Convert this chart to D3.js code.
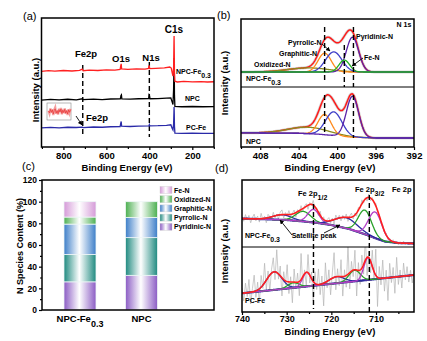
<!DOCTYPE html>
<html><head><meta charset="utf-8">
<script src="https://cdn.jsdelivr.net/npm/d3@7"></script>
<style>body{margin:0;background:#fff}svg{display:block}</style>
</head><body><svg id="c" width="427" height="341"></svg>
<script>
// ================= DATA =================
// (a) XPS survey spectra: [binding energy (eV), intensity (a.u.)]
const surveyNPCFe = [[902,58.6],[870,59.2],[840,58.8],[800,59.3],[760,58.9],[725,59.4],[712,60.4],[708,59.1],[680,59.6],[640,59.3],[600,59.8],[560,59.6],[536,60.2],[533,63],[531,64.5],[529,60.6],[500,60.2],[460,60.6],[420,60.4],[404,60.9],[401,63.2],[398,60.8],[370,61],[330,61.3],[305,62],[298,61.2],[293,57],[290,55],[287,62],[285.5,80],[284.8,86],[284,75],[283,58],[281,51],[270,50.4],[240,50.8],[200,50.5],[160,50.7],[130,50.4],[99,50.6]];
const surveyNPC = [[902,36.4],[860,36.9],[820,36.5],[780,37],[740,36.6],[712,37.4],[708,36.8],[660,37.1],[620,36.8],[580,37.2],[535,37.3],[532,40],[530,40.5],[528,37.3],[490,37.1],[450,37.4],[403,37.6],[401,40.2],[399,39.5],[397,37.4],[360,37.5],[320,37.9],[300,38.1],[294,35],[290,33],[287,45],[285.5,62],[284.8,69],[284,60],[283,40],[281,31.5],[250,31.2],[200,31.4],[150,31.2],[99,31.3]];
const surveyPCFe = [[902,14.8],[860,15.2],[820,14.9],[780,15.3],[740,15.1],[712,15.4],[708,15.0],[660,15.5],[620,15.3],[580,15.7],[536,15.8],[533,18.5],[531,19.8],[529,16.1],[490,15.9],[450,16.2],[402,16.3],[400,17.3],[398,16.4],[360,16.5],[320,16.8],[300,17.2],[294,14.5],[290,13.2],[287,18],[285.5,27],[284.8,31],[284,26],[283,16],[281,10.8],[250,10.5],[200,10.7],[150,10.5],[99,10.6]];
const surveyNames = ["NPC-Fe", "NPC", "PC-Fe"];
const insetSignal = [0.2,-0.5,0.8,-0.3,0.6,-0.9,0.4,1,-0.6,0.3,-0.8,0.7,-0.2,0.9,-0.7,0.5,-0.4,0.8,-0.6,0.3,-0.9,0.6,-0.3,0.7];

// (b) N 1s fitted components: centre (eV), FWHM (eV), height (a.u.)
const n1sSpecies = ["Pyridinic-N","Pyrrolic-N","Graphitic-N","Oxidized-N","Fe-N"];
const n1sCenters = [398.4, 400.35, 401.3, 403.0, 399.25];
const n1sFwhm = [1.5, 2.0, 1.6, 5.0, 1.3];
const n1sHeightNPCFe = [0.85, 0.49, 0.46, 0.10, 0.29];
const n1sHeightNPC = [0.95, 0.55, 0.47, 0.15, 0];
const n1sBgNPCFe = [[410,0],[392,0]];
const n1sBgNPC = [[410,0.12],[404,0.11],[402,0.09],[400,0.05],[398.5,0.02],[396,0],[392,0]];

// (c) N species content (%)
const samples = ["NPC-Fe0.3","NPC"];
const contentNPCFe = [26, 25.3, 28, 6.5, 14.2];
const contentNPC = [32, 34.8, 18.7, 14.5, 0];
const yTicksC = [0,20,40,60,80,100,120];

// (d) Fe 2p fitted components
const fe2pKinds = ["sat","Fe2+","Fe3+","sat","Fe2+","Fe3+"];
const fe2pCentersNPCFe = [731.0, 726.3, 724.0, 716.7, 712.5, 710.2];
const fe2pHeightsNPCFe = [7.5, 15, 19.5, 15.7, 36, 39];
const fe2pFwhmNPCFe = [5, 4, 3, 6, 3.5, 3.5];
const fe2pBgNPCFe = [[740,42.5],[735,41.5],[730,40.3],[726,38],[723,35.8],[720,32.8],[716,26.9],[712,17.9],[710,12.7],[708,8.2],[705,6],[701.5,5.2]];
const fe2pCentersPCFe = [732.8, 728.5, 725.5, 718.8, 714.8, 711.8];
const fe2pHeightsPCFe = [27.7, 7.7, 21.5, 10, 17, 34];
const fe2pFwhmPCFe = [4, 3, 2.2, 4, 3, 2.2];
const fe2pBgPCFe = [[740,28.8],[701.5,56.9]];
const fe2pNoiseNPCFe = [3,-4,6,-2,5,-6,2,7,-3,4,-5,8,-2,3,-7,5,1,-4,6,-3,2,-6,4,7,-5,3,-2,6,-4,1,5,-7,3,-3,6,-5,2,4,-6,3,-2,7,-4,2,-5,6,-3,4,-6,2,5,-4,3,-7,6,-2,4,-5,3,-3,5,-6,2,6,-4,3,-5,4,-2,6,-3,2,-5,5,-4,3,-2,4,-3,2,-4,3,-2,3,-3,2,-2,3,-2,2,-3,2,-2,3,-2,1,-2,2,-1,2];
const fe2pNoisePCFe = [8,-12,15,-6,20,-18,5,25,-10,12,-22,18,-5,30,-15,10,-25,6,22,-12,35,-8,15,-28,12,-6,26,-18,8,-32,20,-10,14,-22,40,-15,6,-20,28,-12,10,-30,18,-8,24,-16,12,-35,30,-10,16,-24,8,38,-20,12,-14,26,-30,10,-18,45,-25,15,-10,30,-40,12,-22,20,-15,35,-28,10,-18,25,-12,40,-45,18,-10,28,-20,12,-35,22,-8,15,-25,30,-12,10,-18,20,-6,14,-10,8,-12,6];

// ================= HELPERS =================
const FONT = "'Liberation Sans', Arial, sans-serif";
const svg = d3.select("#c");
const defs = svg.append("defs");
defs.append("marker").attr("id","ah").attr("viewBox","0 0 10 10").attr("refX",9).attr("refY",5)
  .attr("markerWidth",5).attr("markerHeight",5).attr("orient","auto")
  .append("path").attr("d","M0,0L10,5L0,10z").attr("fill","#000");

function gauss(E,c,h,w){ return h*Math.exp(-4*Math.LN2*(E-c)*(E-c)/(w*w)); }
function interp(pts,E){
  const s = pts.slice().sort((a,b)=>a[0]-b[0]);
  if(E<=s[0][0]) return s[0][1];
  if(E>=s[s.length-1][0]) return s[s.length-1][1];
  for(let i=1;i<s.length;i++){ if(E<=s[i][0]){ const t=(E-s[i-1][0])/(s[i][0]-s[i-1][0]); return s[i-1][1]+t*(s[i][1]-s[i-1][1]); } }
}
function label(x,y,parts,o){
  o=o||{};
  const t = svg.append("text").attr("x",x).attr("y",y).attr("font-size",o.size||7)
    .attr("font-weight",o.bold===false?"normal":"bold").attr("text-anchor",o.anchor||"start")
    .attr("font-family",FONT).attr("fill",o.fill||"#000");
  if(o.rotate) t.attr("transform",`rotate(-90,${x},${y})`);
  parts.forEach(p=>{ const s=t.append("tspan").text(p[0]); if(p[1]!==undefined) s.attr("dy",p[1]).attr("font-size",p[2]||o.size||7); });
  return t;
}
function frame(x0,y0,x1,y1){
  svg.append("rect").attr("x",x0).attr("y",y0).attr("width",x1-x0).attr("height",y1-y0)
    .attr("fill","none").attr("stroke","#000").attr("stroke-width",1.5);
}
function bottomAxis(scale,y,major,minor,fs,pad){
  const g1 = svg.append("g").attr("transform",`translate(0,${y})`)
    .call(d3.axisBottom(scale).tickValues(minor).tickSize(2).tickFormat(""));
  const g2 = svg.append("g").attr("transform",`translate(0,${y})`)
    .call(d3.axisBottom(scale).tickValues(major).tickSize(3).tickPadding(pad).tickFormat(d3.format("d")));
  [g1,g2].forEach(g=>{ g.select(".domain").remove(); g.selectAll("line").attr("stroke-width",1.2);
    g.selectAll("text").attr("font-size",fs).attr("font-weight","bold").attr("font-family",FONT).attr("fill","#000"); });
}
function vdash(x,y0,y1){
  svg.append("line").attr("x1",x).attr("x2",x).attr("y1",y0).attr("y2",y1)
    .attr("stroke","#000").attr("stroke-width",1.4).attr("stroke-dasharray","5,3");
}
function arrow(x1,y1,x2,y2){
  svg.append("line").attr("x1",x1).attr("y1",y1).attr("x2",x2).attr("y2",y2)
    .attr("stroke","#000").attr("stroke-width",0.9).attr("marker-end","url(#ah)");
}

// ================= PANEL (a) =================
const ax = d3.scaleLinear().domain([902,99]).range([41.5,214]);
const ay = d3.scaleLinear().domain([0,100]).range([147,18]);
const lineA = d3.line().x(d=>ax(d[0])).y(d=>ay(d[1]));
bottomAxis(ax,147,[800,600,400,200],[900,700,500,300,100],9.5,2);
vdash(ax(710), ay(63.6), ay(7.8));
vdash(ax(400), ay(65.9), ay(7.8));
[[surveyPCFe,"#2a2aa8"],[surveyNPC,"#000"],[surveyNPCFe,"#ff2020"]].forEach(([d,c])=>{
  svg.append("path").datum(d).attr("d",lineA).attr("fill","none").attr("stroke",c).attr("stroke-width",1.3);
});
// inset
const insX = d3.scaleLinear().domain([0,insetSignal.length-1]).range([48.5,70.5]);
const insY = d3.scaleLinear().domain([-2.2,2.2]).range([120,103]);
svg.append("rect").attr("x",47).attr("y",103).attr("width",24).attr("height",17).attr("fill","#fff").attr("stroke","#888").attr("stroke-width",0.6);
svg.append("path").datum(insetSignal).attr("d",d3.line().x((d,i)=>insX(i)).y(d=>insY(d))).attr("fill","none").attr("stroke","#f4a0a0").attr("stroke-width",2.4);
svg.append("path").datum(insetSignal).attr("d",d3.line().x((d,i)=>insX(i)).y(d=>insY(d*0.7))).attr("fill","none").attr("stroke","#e83030").attr("stroke-width",0.7);
frame(41.5,18,214,147);
label(23,20,[["(a)"]],{size:11,bold:false});
label(174,33,[["C1s"]],{size:10,anchor:"middle"});
label(86,57,[["Fe2p"]],{size:9.5,anchor:"middle"});
label(121,62,[["O1s"]],{size:9.5,anchor:"middle"});
label(151,61,[["N1s"]],{size:9.5,anchor:"middle"});
label(86,121,[["Fe2p"]],{size:9.5});
arrow(76,116,82,125);
label(176,74,[["NPC-Fe"],["0.3",3.5,7]],{size:7});
label(185,101,[["NPC"]],{size:7});
label(186,130,[["PC-Fe"]],{size:7});
label(38.5,90,[["Intensity (a.u.)"]],{size:9.5,anchor:"middle",rotate:true});
label(127,171,[["Binding Energy (eV)"]],{size:9.5,anchor:"middle"});

// ================= PANEL (b) =================
const bx = d3.scaleLinear().domain([410,392]).range([241,414]);
const byTop = d3.scaleLinear().domain([0,1]).range([72,31]);
const byBot = d3.scaleLinear().domain([0,1]).range([138,95]);
const n1sColors = ["#5a22a8","#3e3ec8","#ff8a1c","#8a8a1e","#22b022"];
const Eb = d3.range(410,391.99,-0.05);
bottomAxis(bx,147,[408,404,400,396,392],[410,406,402,398,394],9.5,2);
function drawN1s(heights,bg,ys,order){
  const lb = d3.line().x(d=>bx(d[0])).y(d=>ys(d[1]));
  const env = Eb.map(E=>[E, interp(bg,E)+heights.reduce((s,h,i)=>s+gauss(E,n1sCenters[i],h,n1sFwhm[i]),0)]);
  svg.append("path").datum(env).attr("d",lb).attr("fill","none").attr("stroke","#d8d8d8").attr("stroke-width",3);
  svg.append("path").datum(env).attr("d",lb).attr("fill","none").attr("stroke","#ff1a1a").attr("stroke-width",1.5);
  order.forEach(i=>{
    if(heights[i]<=0) return;
    const comp = Eb.map(E=>[E, interp(bg,E)+gauss(E,n1sCenters[i],heights[i],n1sFwhm[i])]);
    svg.append("path").datum(comp).attr("d",lb).attr("fill","none").attr("stroke",n1sColors[i]).attr("stroke-width",1.3);
  });
}
drawN1s(n1sHeightNPCFe,n1sBgNPCFe,byTop,[3,2,1,0,4]);
drawN1s(n1sHeightNPC,n1sBgNPC,byBot,[3,2,1,0]);
vdash(bx(401.3),27,83); vdash(bx(399.25),45,87); vdash(bx(398.3),27,87);
vdash(bx(401.3),95,133); vdash(bx(398.3),95,138);
svg.append("line").attr("x1",241).attr("x2",414).attr("y1",87).attr("y2",87).attr("stroke","#000").attr("stroke-width",1);
frame(241,19,414,147);
label(217,19,[["(b)"]],{size:11,bold:false});
label(404,27,[["N 1s"]],{size:7,anchor:"middle"});
label(288,45,[["Pyrrolic-N"]],{size:7});
arrow(322,44,330,51);
label(279,56,[["Graphitic-N"]],{size:7});
label(254,67,[["Oxidized-N"]],{size:7});
label(356,39,[["Pyridinic-N"]],{size:7});
label(364,60,[["Fe-N"]],{size:7});
arrow(363,58,352,66);
label(246,81,[["NPC-Fe"],["0.3",3.5,7]],{size:7});
label(246,144,[["NPC"]],{size:7});
label(228,83,[["Intensity (a.u.)"]],{size:9.5,anchor:"middle",rotate:true});
label(330,171,[["Binding Energy (eV)"]],{size:9.5,anchor:"middle"});

// ================= PANEL (c) =================
const cy = d3.scaleLinear().domain([0,120]).range([310,180]);
const cx = d3.scaleBand().domain(samples).range([64,157.5]).paddingInner(0.48).paddingOuter(0);
const speciesColors = ["#8b5cc4","#1f8a80","#3d7ec8","#4caf50","#d59ad8"];
speciesColors.forEach((c,i)=>{
  const g = defs.append("linearGradient").attr("id","sg"+i).attr("x1",0).attr("x2",1).attr("y1",0).attr("y2",0);
  g.append("stop").attr("offset","0%").attr("stop-color",c);
  g.append("stop").attr("offset","48%").attr("stop-color","#fff");
  g.append("stop").attr("offset","100%").attr("stop-color",c);
});
const stackData = [contentNPCFe, contentNPC];
stackData.forEach((vals,si)=>{
  let acc = 0;
  vals.forEach((v,i)=>{
    if(v<=0) return;
    svg.append("rect").attr("x",cx(samples[si])).attr("width",cx.bandwidth())
      .attr("y",cy(acc+v)).attr("height",cy(acc)-cy(acc+v))
      .attr("fill",`url(#sg${i})`).attr("stroke","#eef6f6").attr("stroke-width",0.8);
    acc += v;
  });
});
const gyc = svg.append("g").attr("transform","translate(42,0)")
  .call(d3.axisLeft(cy).tickValues(d3.range(10,120,20)).tickSize(2).tickFormat(""));
const gyc2 = svg.append("g").attr("transform","translate(42,0)")
  .call(d3.axisLeft(cy).tickValues(yTicksC).tickSize(3).tickPadding(2));
[gyc,gyc2].forEach(g=>{ g.select(".domain").remove(); g.selectAll("line").attr("stroke-width",1.2);
  g.selectAll("text").attr("font-size",8.5).attr("font-weight","bold").attr("font-family",FONT).attr("fill","#000"); });
frame(42,180,214,310);
// legend
const legOrder = [4,3,2,1,0];
legOrder.forEach((si,k)=>{
  const yy = 190 + k*9.2;
  svg.append("rect").attr("x",160).attr("y",yy-3.5).attr("width",12).attr("height",7)
    .attr("fill",`url(#sg${si})`).attr("stroke","#ccc").attr("stroke-width",0.4);
  label(174,yy+2.5,[[n1sSpecies[si]]],{size:7});
});
label(80,322,[["NPC-Fe"],["0.3",5,9]],{size:9.5,anchor:"middle"});
label(141.5,322,[["NPC"]],{size:9.5,anchor:"middle"});
label(23,246,[["N Species Content (%)"]],{size:9,anchor:"middle",rotate:true});
label(22,170,[["(c)"]],{size:11,bold:false});

// ================= PANEL (d) =================
const dx = d3.scaleLinear().domain([740,701.5]).range([242,414]);
const dyTop = d3.scaleLinear().domain([0,100]).range([247,180]);
const dyBot = d3.scaleLinear().domain([0,100]).range([312,247]);
const feColors = {"sat":"#2a2aa0","Fe2+":"#2aa02a","Fe3+":"#b23cc6"};
const Ed = d3.range(740,701.49,-0.1);
bottomAxis(dx,312,[740,730,720,710],[735,725,715,705],9,1);
defs.append("clipPath").attr("id","cdTop").append("rect").attr("x",242).attr("y",180).attr("width",172).attr("height",67);
defs.append("clipPath").attr("id","cdBot").append("rect").attr("x",242).attr("y",247).attr("width",172).attr("height",65);
function drawFe(centers,heights,fwhm,bg,noise,ys,clip){
  const g = svg.append("g").attr("clip-path",`url(#${clip})`);
  const ld = d3.line().x(d=>dx(d[0])).y(d=>ys(d[1]));
  const model = E => interp(bg,E)+heights.reduce((s,h,i)=>s+gauss(E,centers[i],h,fwhm[i]),0);
  const nE = d3.scaleLinear().domain([0,noise.length-1]).range([740,701.5]);
  const raw = noise.map((n,i)=>[nE(i), model(nE(i))+n]);
  g.append("path").datum(raw).attr("d",ld).attr("fill","none").attr("stroke","#b4b4b4").attr("stroke-width",0.7);
  g.append("path").datum(Ed.map(E=>[E,interp(bg,E)])).attr("d",ld).attr("fill","none").attr("stroke","#2a2aa0").attr("stroke-width",2.2);
  centers.forEach((c,i)=>{
    const comp = Ed.map(E=>[E, interp(bg,E)+gauss(E,c,heights[i],fwhm[i])]);
    g.append("path").datum(comp).attr("d",ld).attr("fill","none").attr("stroke",feColors[fe2pKinds[i]]).attr("stroke-width",1.3);
  });
  g.append("path").datum(Ed.map(E=>[E,model(E)])).attr("d",ld).attr("fill","none").attr("stroke","#ff2020").attr("stroke-width",1.6);
}
drawFe(fe2pCentersNPCFe,fe2pHeightsNPCFe,fe2pFwhmNPCFe,fe2pBgNPCFe,fe2pNoiseNPCFe,dyTop,"cdTop");
drawFe(fe2pCentersPCFe,fe2pHeightsPCFe,fe2pFwhmPCFe,fe2pBgPCFe,fe2pNoisePCFe,dyBot,"cdBot");
vdash(dx(724),204,309); vdash(dx(711.5),195,312);
svg.append("line").attr("x1",242).attr("x2",414).attr("y1",247).attr("y2",247).attr("stroke","#000").attr("stroke-width",1);
frame(242,180,414,312);
label(215,172,[["(d)"]],{size:11,bold:false});
label(392,192,[["Fe 2p"]],{size:7.5});
label(355,192,[["Fe 2p"],["3/2",4,7]],{size:7.5});
label(298,196,[["Fe 2p"],["1/2",4,7]],{size:7.5});
label(314,238,[["Satellite peak"]],{size:7,anchor:"middle"});
arrow(292,235,280,220);
arrow(324,233,340,225);
label(245,238,[["NPC-Fe"],["0.3",3.5,7]],{size:7});
label(245,303,[["PC-Fe"]],{size:7});
label(228,251,[["Intensity (a.u.)"]],{size:9.5,anchor:"middle",rotate:true});
label(330,334.5,[["Binding Energy (eV)"]],{size:9.5,anchor:"middle"});
</script></body></html>
